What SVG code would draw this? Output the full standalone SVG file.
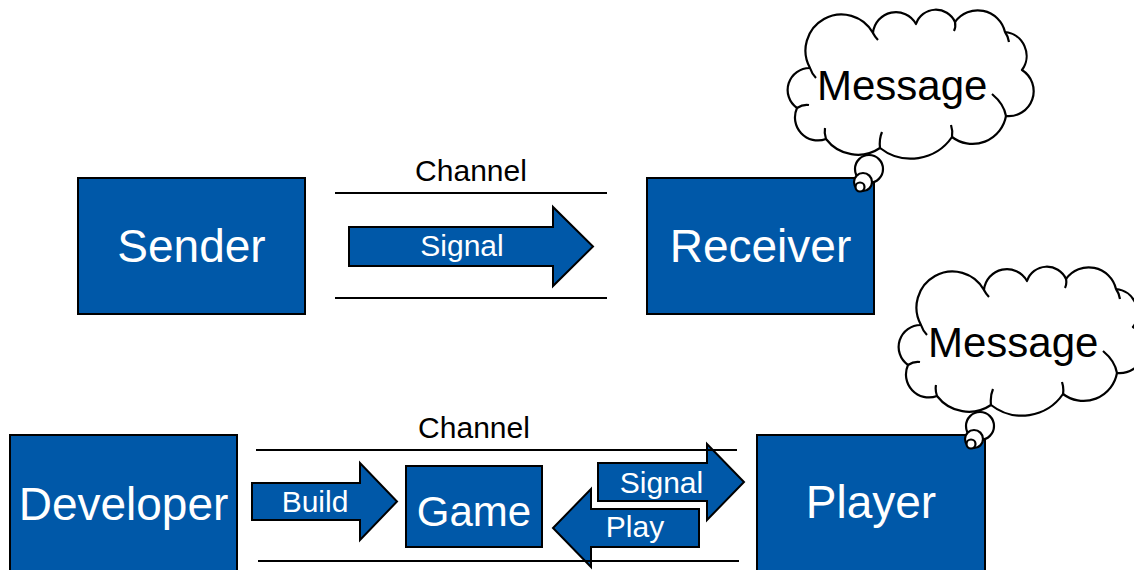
<svg xmlns="http://www.w3.org/2000/svg" width="1134" height="570" viewBox="0 0 1134 570">
<style>
.box{fill:#0058A8;stroke:#000;stroke-width:2}
.arr{fill:#0058A8;stroke:#000;stroke-width:2;stroke-linejoin:miter}
.line{stroke:#000;stroke-width:2;fill:none}
.cloud{fill:#fff;stroke:#000;stroke-width:2.2;stroke-linejoin:round}
.hook{fill:none;stroke:#000;stroke-width:2.2}
text{font-family:"Liberation Sans",Arial,sans-serif}
.wl{fill:#fff;font-size:46px;text-anchor:middle}
.wm{fill:#fff;font-size:30px;text-anchor:middle}
.bk{fill:#000;font-size:30px;text-anchor:middle}
.msg{fill:#000;font-size:42px}
</style>
<defs>
<g id="cloudShape">
<circle cx="869" cy="169" r="14" class="cloud"/>
<path class="cloud" d="M810 68 A24 24 0 0 1 873 33 A23 23 0 0 1 916 24 A21 21 0 0 1 955 22 A28 28 0 0 1 1005 32 A24 24 0 0 1 1022 70 A25 25 0 0 1 1006 116 A34 34 0 0 1 952 137 A50 50 0 0 1 880 148 A40 40 0 0 1 826 139 A23 23 0 0 1 797 108 A22 22 0 0 1 810 68 Z"/>
<path class="hook" d="M810 68 q2 6 6 10 M873 33 q2 4 5 7 M955 22 q1 5 -1 9 M1005 32 q3 4 4 10 M1006 116 q-2 -12 -14 -22 M952 137 q1 -6 -1 -12 M880 148 q-1 -9 2 -16 M826 139 q-2 -6 -1 -11 M797 108 q6 -4 12 -3"/>
<circle cx="863" cy="182" r="9" class="cloud"/>
<circle cx="860" cy="187" r="4.5" class="cloud"/>
</g>
</defs>

<g id="sender">
<rect class="box" x="78" y="178" width="227" height="136"/>
<text class="wl" x="191.5" y="262">Sender</text>
</g>
<g id="receiver">
<rect class="box" x="647" y="178" width="227" height="136"/>
<text class="wl" x="760.5" y="262">Receiver</text>
</g>
<g id="developer">
<rect class="box" x="10" y="435" width="227" height="140"/>
<text class="wl" x="123.5" y="520">Developer</text>
</g>
<g id="player">
<rect class="box" x="757" y="435" width="228" height="140"/>
<text class="wl" x="871" y="518">Player</text>
</g>
<g id="game">
<rect class="box" x="406" y="466" width="136" height="81"/>
<text fill="#fff" font-size="42" text-anchor="middle" x="474" y="526">Game</text>
</g>

<g id="connectors">
<g id="signal-top">
<polygon class="arr" points="349,227 553,227 553,207 593,246.5 553,286 553,266 349,266"/>
<text class="wm" x="462" y="256">Signal</text>
</g>
<g id="build">
<polygon class="arr" points="252,483 360,483 360,463 397,501.5 360,540 360,520 252,520"/>
<text class="wm" x="315" y="512">Build</text>
</g>
<g id="signal-bottom">
<polygon class="arr" points="598,463 707,463 707,444 744,482 707,520 707,501 598,501"/>
<text class="wm" x="661.5" y="493">Signal</text>
</g>
<g id="play">
<polygon class="arr" points="699,509 591,509 591,489 553,528 591,567 591,547 699,547"/>
<text class="wm" x="635" y="537">Play</text>
</g>
<g id="channel-top">
<line class="line" x1="335" y1="193" x2="607" y2="193"/>
<line class="line" x1="335" y1="298" x2="607" y2="298"/>
<text class="bk" x="471" y="181">Channel</text>
</g>
<g id="channel-bottom">
<line class="line" x1="256" y1="450" x2="737" y2="450"/>
<line class="line" x1="258" y1="561" x2="739" y2="561"/>
<text class="bk" x="474" y="438">Channel</text>
</g>
</g>

<g id="message-receiver">
<use href="#cloudShape"/>
<text class="msg" x="817" y="100">Message</text>
</g>
<g id="message-player">
<use href="#cloudShape" transform="translate(111,257)"/>
<text class="msg" x="928" y="357">Message</text>
</g>
</svg>
